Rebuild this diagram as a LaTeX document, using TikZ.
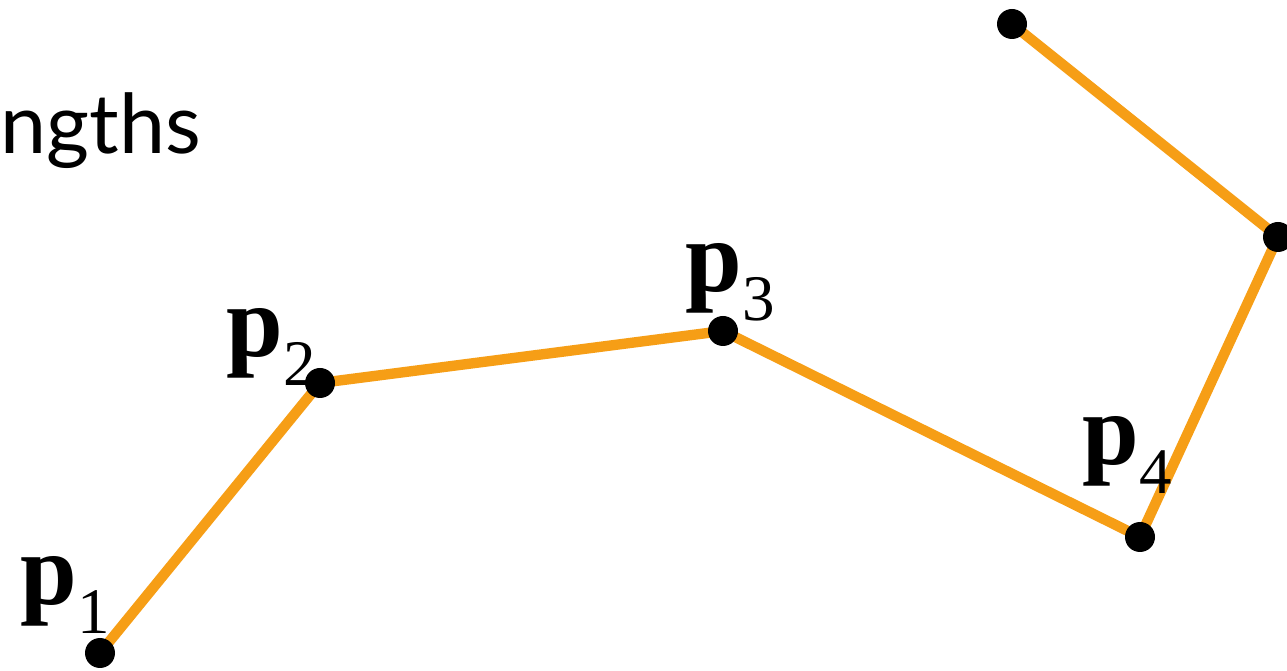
\documentclass[tikz,border=0pt]{standalone}
\usepackage{fontspec}
\setmainfont{Liberation Serif}
\newfontfamily\headfont{Lato}
\definecolor{segorange}{RGB}{246,158,22}
\newcommand{\ptlabel}[1]{\textbf{p}\raisebox{-0.28em}{\fontsize{37}{42}\selectfont #1}}
\tikzset{
  seg/.style={segorange,line width=5.9pt},
  ptname/.style={anchor=base west,inner sep=0pt,font=\fontsize{58}{64}\selectfont}
}
\begin{document}
\begin{tikzpicture}
  \useasboundingbox (0,0) rectangle (25.74,13.42);

  % Titel (abgeschnitten)
  \node[anchor=base west,inner sep=0pt,font=\headfont\fontsize{47}{54}\selectfont] (head) at (0,10.34) {ngths};

  % Punkte
  \coordinate (c1) at (2.00,0.36);
  \coordinate (c2) at (6.40,5.76);
  \coordinate (c3) at (14.46,6.80);
  \coordinate (c4) at (22.80,2.68);
  \coordinate (c5) at (25.56,8.68);
  \coordinate (c6) at (20.24,12.94);

  % Polygonzug
  \draw[seg] (c1) -- (c2) -- (c3) -- (c4) -- (c5) -- (c6);
  \foreach \i in {1,...,6}
    \fill (c\i) circle (0.3);

  % Beschriftung
  \node[ptname] (l1) at (0.40,1.32) {\ptlabel{1}};
  \node[ptname] (l2) at (4.52,6.28) {\ptlabel{2}};
  \node[ptname] (l3) at (13.70,7.58) {\ptlabel{3}};
  \node[ptname] (l4) at (21.64,4.12) {\ptlabel{4}};
\end{tikzpicture}
\end{document}
